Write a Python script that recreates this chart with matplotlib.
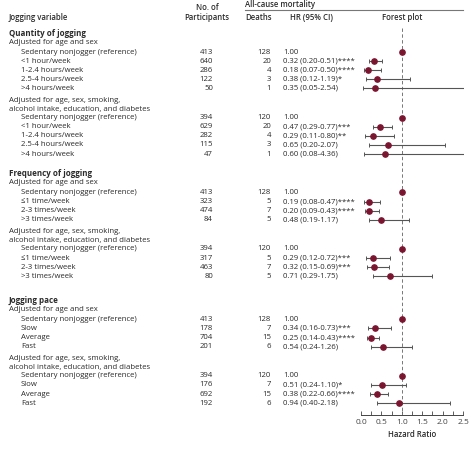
import matplotlib.pyplot as plt
import numpy as np

adj_basic = "Adjusted for age and sex"
adj_full = ["Adjusted for age, sex, smoking,", "alcohol intake, education, and diabetes"]
ref_label = "Sedentary nonjogger (reference)"

qty_labels = [ref_label, "<1 hour/week", "1-2.4 hours/week", "2.5-4 hours/week", ">4 hours/week"]
qty_n_a = [413, 640, 286, 122, 50]
qty_d_a = [128, 20, 4, 3, 1]
qty_hr_a = [1.00, 0.32, 0.18, 0.38, 0.35]
qty_lo_a = [np.nan, 0.20, 0.07, 0.12, 0.05]
qty_hi_a = [np.nan, 0.51, 0.50, 1.19, 2.54]
qty_st_a = ["", "****", "****", "*", ""]
qty_n_b = [394, 629, 282, 115, 47]
qty_d_b = [120, 20, 4, 3, 1]
qty_hr_b = [1.00, 0.47, 0.29, 0.65, 0.60]
qty_lo_b = [np.nan, 0.29, 0.11, 0.20, 0.08]
qty_hi_b = [np.nan, 0.77, 0.80, 2.07, 4.36]
qty_st_b = ["", "***", "**", "", ""]

freq_labels = [ref_label, "\u22641 time/week", "2-3 times/week", ">3 times/week"]
freq_n_a = [413, 323, 474, 84]
freq_d_a = [128, 5, 7, 5]
freq_hr_a = [1.00, 0.19, 0.20, 0.48]
freq_lo_a = [np.nan, 0.08, 0.09, 0.19]
freq_hi_a = [np.nan, 0.47, 0.43, 1.17]
freq_st_a = ["", "****", "****", ""]
freq_n_b = [394, 317, 463, 80]
freq_d_b = [120, 5, 7, 5]
freq_hr_b = [1.00, 0.29, 0.32, 0.71]
freq_lo_b = [np.nan, 0.12, 0.15, 0.29]
freq_hi_b = [np.nan, 0.72, 0.69, 1.75]
freq_st_b = ["", "***", "***", ""]

pace_labels = [ref_label, "Slow", "Average", "Fast"]
pace_n_a = [413, 178, 704, 201]
pace_d_a = [128, 7, 15, 6]
pace_hr_a = [1.00, 0.34, 0.25, 0.54]
pace_lo_a = [np.nan, 0.16, 0.14, 0.24]
pace_hi_a = [np.nan, 0.73, 0.43, 1.26]
pace_st_a = ["", "***", "****", ""]
pace_n_b = [394, 176, 692, 192]
pace_d_b = [120, 7, 15, 6]
pace_hr_b = [1.00, 0.51, 0.38, 0.94]
pace_lo_b = [np.nan, 0.24, 0.22, 0.40]
pace_hi_b = [np.nan, 1.10, 0.66, 2.18]
pace_st_b = ["", "*", "****", ""]

sections = [
    ("Quantity of jogging", qty_labels,
     [(qty_n_a, qty_d_a, qty_hr_a, qty_lo_a, qty_hi_a, qty_st_a),
      (qty_n_b, qty_d_b, qty_hr_b, qty_lo_b, qty_hi_b, qty_st_b)]),
    ("Frequency of jogging", freq_labels,
     [(freq_n_a, freq_d_a, freq_hr_a, freq_lo_a, freq_hi_a, freq_st_a),
      (freq_n_b, freq_d_b, freq_hr_b, freq_lo_b, freq_hi_b, freq_st_b)]),
    ("Jogging pace", pace_labels,
     [(pace_n_a, pace_d_a, pace_hr_a, pace_lo_a, pace_hi_a, pace_st_a),
      (pace_n_b, pace_d_b, pace_hr_b, pace_lo_b, pace_hi_b, pace_st_b)]),
]

plt.rcParams['font.family'] = ['Open Sans', 'DejaVu Sans']
txt = '#2b2b2b'
fs = 5.6
W, H = 474, 455

fig = plt.figure(figsize=(W / 100, H / 100), dpi=100)
bg = fig.add_axes([0, 0, 1, 1])
bg.set_xlim(0, W)
bg.set_ylim(H, 0)
bg.axis('off')

# forest panel: 0..2.53 on x, pixel rows on y
x0, px_per = 361, 40.8
axis_y = 415
xmax = 2.53
fx = fig.add_axes([x0 / W, (H - axis_y) / H, xmax * px_per / W, axis_y / H])
fx.set_xlim(0, xmax)
fx.set_ylim(axis_y, 0)
fx.patch.set_alpha(0)
for s in ['top', 'right', 'left']:
    fx.spines[s].set_visible(False)
fx.spines['bottom'].set_bounds(0, 2.5)
fx.spines['bottom'].set_color('#444444')
fx.spines['bottom'].set_linewidth(0.7)
fx.set_yticks([])
fx.set_xticks(np.arange(0, 2.51, 0.5))
fx.set_xticks(np.arange(0, 2.51, 0.25), minor=True)
fx.tick_params(axis='x', which='both', direction='in', length=3, width=0.6,
               color='#444444', labelsize=fs + 0.4, labelcolor='#444444', pad=3)
fx.set_xticklabels(['0.0', '0.5', '1.0', '1.5', '2.0', '2.5'])
fx.set_xlabel('Hazard Ratio', fontsize=fs, color=txt, fontweight='semibold', labelpad=3)

# header
hy = 17
bg.text(9, hy, 'Jogging variable', fontsize=fs, color=txt, fontweight='semibold', va='center')
bg.text(207, 8, 'No. of', fontsize=fs, color=txt, fontweight='semibold', va='center', ha='center')
bg.text(207, hy, 'Participants', fontsize=fs, color=txt, fontweight='semibold', va='center', ha='center')
bg.text(245, 4.5, 'All-cause mortality', fontsize=fs, color=txt, fontweight='semibold', va='center')
bg.plot([245, 463], [10, 10], color='#777777', lw=0.8)
bg.text(245, hy, 'Deaths', fontsize=fs, color=txt, fontweight='semibold', va='center')
bg.text(290, hy, 'HR (95% CI)', fontsize=fs, color=txt, fontweight='semibold', va='center')
bg.text(402, hy, 'Forest plot', fontsize=fs, color=txt, fontweight='semibold', va='center', ha='center')

fx.plot([1, 1], [28, axis_y], color='#777777', lw=0.7, dashes=(3.5, 2.5))

section_gap = [0, 19.5, 24]
y = 33
for si, (title, labels, blocks) in enumerate(sections):
    y += section_gap[si]
    bg.text(9, y, title, fontsize=fs + 0.2, color=txt, fontweight='bold', va='center')
    for bi, (n, d, hr, lo, hi, st) in enumerate(blocks):
        if bi == 0:
            y += 9.5
            bg.text(9, y, adj_basic, fontsize=fs, color=txt, va='center')
            y += 9.5
        else:
            y += 12
            bg.text(9, y, adj_full[0], fontsize=fs, color=txt, va='center')
            y += 8.7
            bg.text(9, y, adj_full[1], fontsize=fs, color=txt, va='center')
            y += 8.5
        for i in range(len(labels)):
            if i > 0:
                y += 9.1
            bg.text(21, y, labels[i], fontsize=fs, color=txt, va='center')
            bg.text(213, y, str(n[i]), fontsize=fs, color=txt, va='center', ha='right')
            bg.text(271, y, str(d[i]), fontsize=fs, color=txt, va='center', ha='right')
            if np.isnan(lo[i]):
                hr_s = f'{hr[i]:.2f}'
            else:
                hr_s = f'{hr[i]:.2f} ({lo[i]:.2f}-{hi[i]:.2f}){st[i]}'
                fx.errorbar(hr[i], y, xerr=[[hr[i] - lo[i]], [hi[i] - hr[i]]], fmt='none',
                            ecolor='#555555', elinewidth=0.8, capsize=1.6, capthick=0.7)
            bg.text(283, y, hr_s, fontsize=fs, color=txt, va='center')
            fx.plot(hr[i], y, 'o', color='#7a1530', markersize=3.8, zorder=5)

fig.savefig('out.png', dpi=100)
